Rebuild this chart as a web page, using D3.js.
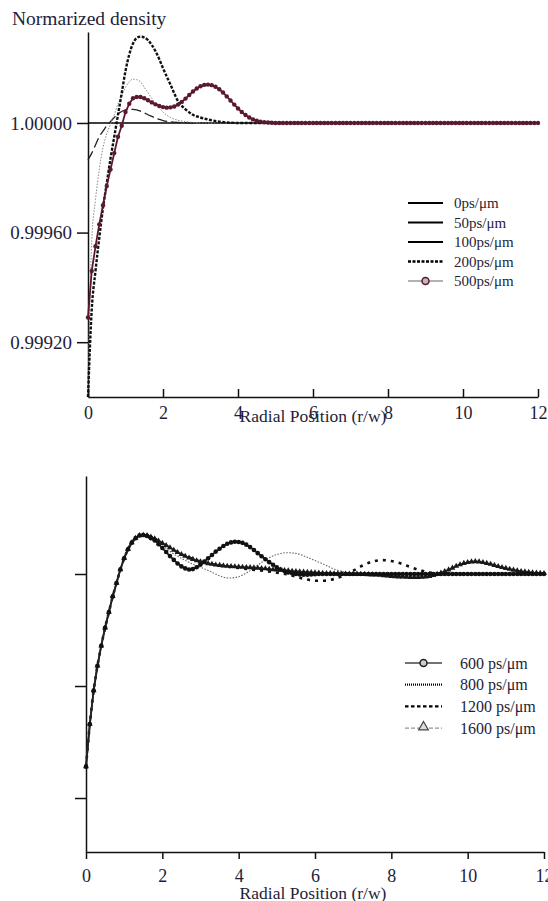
<!DOCTYPE html>
<html>
<head>
<meta charset="utf-8">
<script src="https://cdn.jsdelivr.net/npm/d3@7"></script>
<style>
  body { margin: 0; background: #fff; }
  svg text { font-family: "Liberation Serif", "Times New Roman", Times, "DejaVu Serif", serif !important; fill: #1e1e38; }
</style>
</head>
<body>
<div id="viz"></div>
<script>
// ---- data ----

// fine radial grid (r/w), used by the series drawn with markers
var radialGrid = [
  0, 0.1, 0.2, 0.3, 0.4, 0.5, 0.6, 0.7, 0.8, 0.9,
  1, 1.1, 1.2, 1.3, 1.4, 1.5, 1.6, 1.7, 1.8, 1.9,
  2, 2.1, 2.2, 2.3, 2.4, 2.5, 2.6, 2.7, 2.8, 2.9,
  3, 3.1, 3.2, 3.3, 3.4, 3.5, 3.6, 3.7, 3.8, 3.9,
  4, 4.1, 4.2, 4.3, 4.4, 4.5, 4.6, 4.7, 4.8, 4.9,
  5, 5.1, 5.2, 5.3, 5.4, 5.5, 5.6, 5.7, 5.8, 5.9,
  6, 6.1, 6.2, 6.3, 6.4, 6.5, 6.6, 6.7, 6.8, 6.9,
  7, 7.1, 7.2, 7.3, 7.4, 7.5, 7.6, 7.7, 7.8, 7.9,
  8, 8.1, 8.2, 8.3, 8.4, 8.5, 8.6, 8.7, 8.8, 8.9,
  9, 9.1, 9.2, 9.3, 9.4, 9.5, 9.6, 9.7, 9.8, 9.9,
  10, 10.1, 10.2, 10.3, 10.4, 10.5, 10.6, 10.7, 10.8, 10.9,
  11, 11.1, 11.2, 11.3, 11.4, 11.5, 11.6, 11.7, 11.8, 11.9,
  12
];

// coarse grids for the plain line series
var radialTop = [0, 0.1, 0.2, 0.3, 0.4, 0.5, 0.6, 0.7, 0.8, 0.9, 1, 1.1, 1.2, 1.3, 1.4, 1.5, 1.6, 1.7, 1.8, 1.9,
  2, 2.2, 2.4, 2.6, 2.8, 3, 3.5, 4, 5, 6, 8, 10, 12];
var radialBottom = [0, 0.1, 0.2, 0.3, 0.4, 0.5, 0.6, 0.7, 0.8, 0.9, 1, 1.1, 1.2, 1.3, 1.4, 1.5,
  1.75, 2, 2.25, 2.5, 2.75, 3, 3.25, 3.5, 3.75, 4, 4.25, 4.5, 4.75, 5, 5.25, 5.5, 5.75, 6, 6.25, 6.5,
  6.75, 7, 7.25, 7.5, 7.75, 8, 8.25, 8.5, 8.75, 9, 9.5, 10, 11, 12];

// top panel: 0, 50, 100, 200, 500 ps/um
var density0 = [1, 1, 1, 1, 1, 1, 1, 1, 1, 1, 1, 1, 1, 1, 1, 1, 1, 1, 1, 1,
  1, 1, 1, 1, 1, 1, 1, 1, 1, 1, 1, 1, 1];

var density50 = [0.999865, 0.99989, 0.99992, 0.99995, 0.99997, 0.99999, 1.000005, 1.00002, 1.000033, 1.000042,
  1.000048, 1.00005, 1.00005, 1.000048, 1.000043, 1.000037, 1.00003, 1.000024, 1.000018, 1.000013,
  1.000009, 1.000004, 1.000002, 1.000001, 1, 1, 1, 1, 1, 1, 1, 1, 1];

var density100 = [0.99903, 0.99957, 0.99972, 0.99983, 0.99991, 0.99996, 0.999995, 1.00003, 1.00007, 1.0001,
  1.00013, 1.00015, 1.00016, 1.000158, 1.00015, 1.00013, 1.00011, 1.00009, 1.00007, 1.000055,
  1.00004, 1.00002, 1.00001, 1.000005, 1.000002, 1, 1, 1, 1, 1, 1, 1, 1];

var density200 = [0.999, 0.99932, 0.99946, 0.99958, 0.99969, 0.99978, 0.99987, 0.99995, 1.00003, 1.00011,
  1.00019, 1.00025, 1.00029, 1.00031, 1.000315, 1.000312, 1.000302, 1.000285, 1.000262, 1.000233,
  1.0002, 1.00014, 1.00008, 1.00005, 1.00003, 1.00002, 1.000005, 1, 1, 1, 1, 1, 1];

var density500 = [
  0.99929, 0.99946, 0.99955, 0.99963, 0.9997, 0.99977, 0.99983, 0.99989, 0.99995, 0.99999,
  1.00004, 1.00007, 1.00009, 1.000095, 1.000095, 1.00009, 1.000083, 1.000075, 1.000068, 1.000062,
  1.000058, 1.000056, 1.000057, 1.00006, 1.000067, 1.000077, 1.000089, 1.000102, 1.000115, 1.000126,
  1.000134, 1.000139, 1.00014, 1.000138, 1.000132, 1.000123, 1.000111, 1.000097, 1.000082, 1.000067,
  1.000053, 1.00004, 1.000029, 1.00002, 1.000013, 1.000008, 1.000005, 1.000003, 1.000002, 1.000001,
  1, 1, 1, 1, 1, 1, 1, 1, 1, 1,
  1, 1, 1, 1, 1, 1, 1, 1, 1, 1,
  1, 1, 1, 1, 1, 1, 1, 1, 1, 1,
  1, 1, 1, 1, 1, 1, 1, 1, 1, 1,
  1, 1, 1, 1, 1, 1, 1, 1, 1, 1,
  1, 1, 1, 1, 1, 1, 1, 1, 1, 1,
  1, 1, 1, 1, 1, 1, 1, 1, 1, 1,
  1
];

// bottom panel: 600, 800, 1200, 1600 ps/um
var density600 = [
  0.99914, 0.99933, 0.99948, 0.99959, 0.99968, 0.99976, 0.99983, 0.9999, 0.99996, 1.00002,
  1.00007, 1.00011, 1.00014, 1.00016, 1.000172, 1.000174, 1.00017, 1.00016, 1.00015, 1.000133,
  1.000116, 1.000098, 1.00008, 1.000063, 1.000047, 1.000034, 1.000025, 1.00002, 1.000022, 1.00003,
  1.000042, 1.000056, 1.00007, 1.000085, 1.0001, 1.000113, 1.000125, 1.000135, 1.000141, 1.000144,
  1.000143, 1.000139, 1.000131, 1.00012, 1.000107, 1.000093, 1.000079, 1.000066, 1.000053, 1.000041,
  1.00003, 1.00002, 1.000013, 1.000007, 1.000003, 1, 0.999998, 0.999997, 0.999997, 0.999998,
  0.999999, 1, 1, 1, 1, 1, 1, 1, 1, 1,
  1, 1, 1, 1, 1, 1, 1, 1, 1, 1,
  1, 1, 1, 1, 1, 1, 1, 1, 1, 1,
  1, 1, 1, 1, 1, 1, 1, 1, 1, 1,
  1, 1, 1, 1, 1, 1, 1, 1, 1, 1,
  1, 1, 1, 1, 1, 1, 1, 1, 1, 1,
  1
];

var density800 = [0.99914, 0.99933, 0.99948, 0.99959, 0.99968, 0.99976, 0.99983, 0.9999, 0.99996, 1.00002,
  1.00007, 1.00011, 1.00014, 1.00016, 1.000172, 1.000174,
  1.000162, 1.000128, 1.000095, 1.00007, 1.000048, 1.00003, 1.000012, 0.999992, 0.999982, 0.999988,
  1.00001, 1.00004, 1.000068, 1.000087, 1.000095, 1.000092, 1.000078, 1.00006, 1.000042, 1.000022,
  1.00001, 1.000003, 1, 1, 1, 1, 1, 1, 1, 1,
  1, 1, 1, 1];

var density1200 = [0.99914, 0.99933, 0.99948, 0.99959, 0.99968, 0.99976, 0.99983, 0.9999, 0.99996, 1.00002,
  1.00007, 1.00011, 1.00014, 1.00016, 1.000172, 1.000174,
  1.000162, 1.000136, 1.000111, 1.000088, 1.00007, 1.000056, 1.000046, 1.000038, 1.000032, 1.000027,
  1.000022, 1.000017, 1.000012, 1.000006, 0.999999, 0.999988, 0.999977, 0.99997, 0.99997, 0.999978,
  0.999993, 1.000015, 1.000038, 1.000055, 1.000062, 1.000058, 1.000047, 1.000031, 1.000017, 1.000007,
  1, 1, 1, 1];

var density1600 = [
  0.99914, 0.99933, 0.99948, 0.99959, 0.99968, 0.99976, 0.99983, 0.9999, 0.99996, 1.00002,
  1.00007, 1.00011, 1.00014, 1.00016, 1.000172, 1.000174, 1.000172, 1.000166, 1.000158, 1.000148,
  1.000138, 1.000128, 1.000118, 1.000107, 1.000097, 1.000088, 1.00008, 1.000072, 1.000066, 1.00006,
  1.000055, 1.000051, 1.000047, 1.000044, 1.000041, 1.000039, 1.000037, 1.000035, 1.000034, 1.000033,
  1.000032, 1.000031, 1.00003, 1.000029, 1.000028, 1.000027, 1.000025, 1.000024, 1.000022, 1.00002,
  1.000019, 1.000018, 1.000016, 1.000015, 1.000013, 1.000012, 1.00001, 1.000009, 1.000008, 1.000007,
  1.000006, 1.000005, 1.000004, 1.000003, 1.000003, 1.000002, 1.000002, 1.000001, 1.000001, 1,
  1, 1, 0.999999, 0.999999, 0.999998, 0.999997, 0.999996, 0.999995, 0.999993, 0.999992,
  0.99999, 0.999989, 0.999988, 0.999987, 0.999986, 0.999985, 0.999985, 0.999985, 0.999986, 0.999987,
  0.99999, 0.999994, 0.999999, 1.000005, 1.000012, 1.000019, 1.000027, 1.000035, 1.000042, 1.000048,
  1.000052, 1.000055, 1.000056, 1.000055, 1.000052, 1.000048, 1.000044, 1.000039, 1.000034, 1.00003,
  1.000026, 1.000022, 1.000018, 1.000015, 1.000012, 1.00001, 1.000008, 1.000006, 1.000005, 1.000004,
  1.000003
];

var xTickValues = [0, 2, 4, 6, 8, 10, 12];
var yTicksTop = [0.9992, 0.9996, 1.0];
var yTicksBottom = [0.999, 0.9995, 1.0];
var legendTop = ['0ps/\u03bcm', '50ps/\u03bcm', '100ps/\u03bcm', '200ps/\u03bcm', '500ps/\u03bcm'];
var legendBottom = ['600 ps/\u03bcm', '800 ps/\u03bcm', '1200 ps/\u03bcm', '1600 ps/\u03bcm'];

var maroon = '#5a1a2c';

// ---- scales ----
var svg = d3.select('#viz').append('svg')
  .attr('width', 548)
  .attr('height', 901);

var xTop = d3.scaleLinear().domain([0, 12]).range([88, 538]);
var yTop = d3.scaleLinear().domain([0.999, 1.000332]).range([397, 32]);
var xBot = d3.scaleLinear().domain([0, 12]).range([86, 544]);
var yBot = d3.scaleLinear().domain([0.998759, 1.0004375]).range([852, 476]);

function lineFor(x, y, curve) {
  return d3.line()
    .x(function(d) { return x(d[0]); })
    .y(function(d) { return y(d[1]); })
    .curve(curve || d3.curveMonotoneX);
}

function drawSeries(g, x, y, r, v, style) {
  g.append('path')
    .datum(d3.zip(r, v))
    .attr('fill', 'none')
    .attr('stroke', style.stroke)
    .attr('stroke-width', style.width)
    .attr('stroke-dasharray', style.dash || null)
    .attr('stroke-linejoin', 'round')
    .attr('d', lineFor(x, y, style.curve));
}

// ---- top panel ----
var topPanel = svg.append('g');

topPanel.append('g')
  .attr('transform', 'translate(88,0)')
  .call(d3.axisLeft(yTop).tickValues(yTicksTop).tickFormat(d3.format('.5f')).tickSize(11).tickSizeOuter(0).tickPadding(5))
  .call(function(g) {
    g.selectAll('text').style('font-size', '19px');
  });

topPanel.append('g')
  .attr('transform', 'translate(0,397)')
  .call(d3.axisBottom(xTop).tickValues(xTickValues).tickSize(-8).tickSizeOuter(0).tickPadding(9))
  .call(function(g) {
    g.selectAll('text').style('font-size', '18px');
  });

topPanel.selectAll('.domain, .tick line').attr('stroke', '#111').attr('stroke-width', 1.5);

drawSeries(topPanel, xTop, yTop, radialTop, density0, { stroke: '#000', width: 1.5, curve: d3.curveLinear });
drawSeries(topPanel, xTop, yTop, radialTop, density50, { stroke: '#222', width: 1.3, dash: '10,4' });
drawSeries(topPanel, xTop, yTop, radialTop, density100, { stroke: '#888', width: 1, dash: '1.5,1.5' });
drawSeries(topPanel, xTop, yTop, radialTop, density200, { stroke: '#111', width: 2.4, dash: '3,1.5' });
drawSeries(topPanel, xTop, yTop, radialGrid, density500, { stroke: maroon, width: 1.8, curve: d3.curveLinear });

topPanel.append('g').selectAll('circle')
  .data(d3.zip(radialGrid, density500))
  .enter().append('circle')
  .attr('cx', function(d) { return xTop(d[0]); })
  .attr('cy', function(d) { return yTop(d[1]); })
  .attr('r', 2.2)
  .attr('fill', maroon);

topPanel.append('text')
  .attr('x', 12)
  .attr('y', 25)
  .style('font-size', '19.5px')
  .text('Normarized density');

topPanel.append('text')
  .attr('x', 313)
  .attr('y', 422)
  .attr('text-anchor', 'middle')
  .style('font-size', '17.5px')
  .text('Radial Position (r/w)');

// top legend
var legTop = topPanel.append('g').selectAll('g')
  .data(legendTop)
  .enter().append('g')
  .attr('transform', function(d, i) { return 'translate(408,' + (203 + i * 19.5) + ')'; });

legTop.append('line')
  .attr('x1', 0).attr('x2', 35)
  .attr('stroke', function(d, i) { return i === 4 ? '#999' : '#000'; })
  .attr('stroke-width', function(d, i) { return i === 4 ? 1.5 : (i === 3 ? 2.5 : 2.2); })
  .attr('stroke-dasharray', function(d, i) { return i === 3 ? '3,1.5' : null; });

legTop.filter(function(d, i) { return i === 4; }).append('circle')
  .attr('cx', 17.5).attr('r', 3.5)
  .attr('fill', '#bbb').attr('stroke', maroon).attr('stroke-width', 1.5);

legTop.append('text')
  .attr('x', 46)
  .attr('dy', '0.35em')
  .style('font-size', '15px')
  .text(function(d) { return d; });

// ---- bottom panel ----
var bottomPanel = svg.append('g');

bottomPanel.append('g')
  .attr('transform', 'translate(86,0)')
  .call(d3.axisLeft(yBot).tickValues(yTicksBottom).tickFormat('').tickSize(11).tickSizeOuter(0));

bottomPanel.append('g')
  .attr('transform', 'translate(0,852)')
  .call(d3.axisBottom(xBot).tickValues(xTickValues).tickSize(7).tickSizeOuter(0).tickPadding(10))
  .call(function(g) {
    g.selectAll('text').style('font-size', '18px');
  });

bottomPanel.selectAll('.domain, .tick line').attr('stroke', '#111').attr('stroke-width', 1.5);

drawSeries(bottomPanel, xBot, yBot, radialBottom, density800, { stroke: '#666', width: 1.1, dash: '1.5,1.5' });
drawSeries(bottomPanel, xBot, yBot, radialBottom, density1200, { stroke: '#111', width: 2.6, dash: '3,5' });
drawSeries(bottomPanel, xBot, yBot, radialGrid, density1600, { stroke: '#333', width: 1.8, curve: d3.curveLinear });
drawSeries(bottomPanel, xBot, yBot, radialGrid, density600, { stroke: '#222', width: 1.8, curve: d3.curveLinear });

bottomPanel.append('g').selectAll('path')
  .data(d3.zip(radialGrid, density1600))
  .enter().append('path')
  .attr('transform', function(d) { return 'translate(' + xBot(d[0]) + ',' + yBot(d[1]) + ')'; })
  .attr('d', d3.symbol(d3.symbolTriangle, 15))
  .attr('fill', '#1a1a1a');

bottomPanel.append('g').selectAll('circle')
  .data(d3.zip(radialGrid, density600))
  .enter().append('circle')
  .attr('cx', function(d) { return xBot(d[0]); })
  .attr('cy', function(d) { return yBot(d[1]); })
  .attr('r', 2.3)
  .attr('fill', '#111');

bottomPanel.append('text')
  .attr('x', 313)
  .attr('y', 899)
  .attr('text-anchor', 'middle')
  .style('font-size', '17.5px')
  .text('Radial Position (r/w)');

// bottom legend
var legBot = bottomPanel.append('g').selectAll('g')
  .data(legendBottom)
  .enter().append('g')
  .attr('transform', function(d, i) { return 'translate(405,' + (663 + i * 21.7) + ')'; });

legBot.append('line')
  .attr('x1', 0).attr('x2', 37)
  .attr('stroke', function(d, i) { return i === 0 ? '#444' : (i === 3 ? '#777' : '#000'); })
  .attr('stroke-width', function(d, i) { return i === 0 ? 1.5 : (i === 3 ? 1 : 2.2); })
  .attr('stroke-dasharray', function(d, i) { return [null, '1,1', '3.5,2.5', '4,2'][i]; });

legBot.filter(function(d, i) { return i === 0; }).append('circle')
  .attr('cx', 18.5).attr('r', 3.5)
  .attr('fill', '#ccc').attr('stroke', '#222').attr('stroke-width', 1.5);

legBot.filter(function(d, i) { return i === 3; }).append('path')
  .attr('transform', 'translate(18.5,-1)')
  .attr('d', d3.symbol(d3.symbolTriangle, 40))
  .attr('fill', '#ddd').attr('stroke', '#444').attr('stroke-width', 1.2);

legBot.append('text')
  .attr('x', 55)
  .attr('dy', '0.35em')
  .style('font-size', '16px')
  .text(function(d) { return d; });
</script>
</body>
</html>
